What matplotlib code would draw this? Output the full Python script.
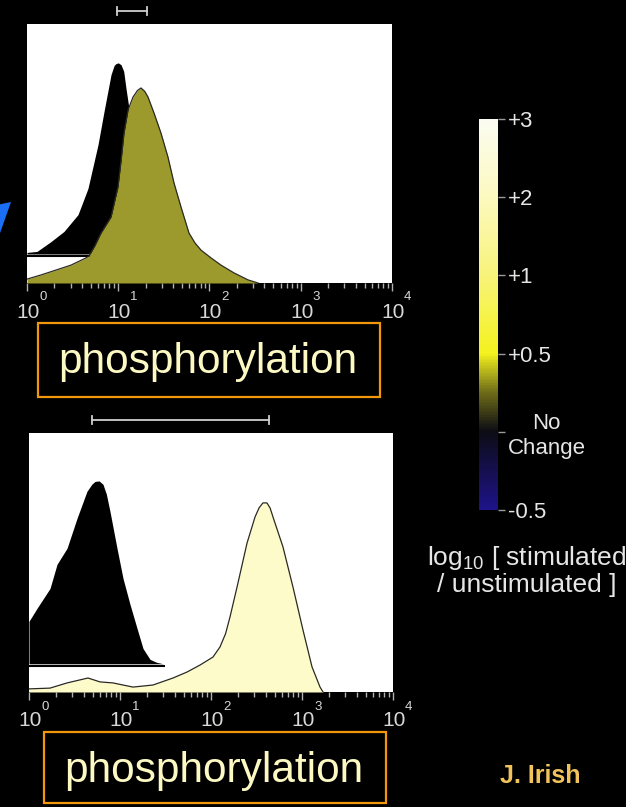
import numpy as np
import matplotlib
matplotlib.use("Agg")
import matplotlib.pyplot as plt
from matplotlib.colors import LinearSegmentedColormap, Normalize
from matplotlib.cm import ScalarMappable
from matplotlib.patches import Rectangle, Polygon
from matplotlib.transforms import blended_transform_factory, ScaledTranslation
from matplotlib.ticker import NullFormatter

plt.rcParams['font.family'] = ['Liberation Sans', 'DejaVu Sans']
plt.rcParams['mathtext.fontset'] = 'custom'
plt.rcParams['mathtext.rm'] = 'Liberation Sans'
plt.rcParams['mathtext.it'] = 'Liberation Sans:italic'
plt.rcParams['mathtext.bf'] = 'Liberation Sans:bold'

# ---------------- data ----------------
# top panel (log10 intensity, counts)
top_unstim_x = [0.0, 0.11, 0.263, 0.405, 0.559, 0.668, 0.778, 0.844, 0.921, 0.955, 0.975,
                1.0, 1.03, 1.06, 1.085, 1.118, 1.173, 1.249, 1.337, 1.447, 1.578, 1.688]
top_unstim_y = [0.6, 1.0, 4.8, 8.7, 15.2, 25.3, 42.2, 55.0, 69.3, 72.8, 73.5,
                73.8, 73.1, 70.5, 63.9, 56.1, 43.4, 28.0, 16.4, 6.7, 0.9, 0.0]
top_stim_x = [0.0, 0.153, 0.318, 0.482, 0.647, 0.679, 0.745, 0.811, 0.921, 0.997, 1.03, 1.063,
              1.107, 1.162, 1.21, 1.249, 1.29, 1.326, 1.392, 1.468, 1.545, 1.611, 1.688, 1.775,
              1.84, 1.907, 2.016, 2.126, 2.268, 2.422, 2.532]
top_stim_y = [1.5, 3.1, 5.0, 6.9, 9.7, 10.4, 14.5, 19.3, 25.5, 37.1, 47.0, 57.9,
              66.8, 71.8, 74.3, 75.3, 74.0, 71.8, 65.6, 57.9, 48.6, 38.6, 29.3, 19.3,
              15.5, 12.7, 9.7, 6.9, 3.9, 1.2, 0.0]
top_medians = [0.99, 1.315]

# bottom panel
bot_unstim_x = [0.0, 0.088, 0.231, 0.308, 0.418, 0.527, 0.637, 0.69, 0.725, 0.77, 0.813, 0.85,
                0.89, 0.967, 1.033, 1.11, 1.187, 1.253, 1.33, 1.4, 1.473, 1.495]
bot_unstim_y = [16.4, 21.4, 29.1, 38.4, 44.6, 56.1, 66.6, 69.3, 70.4, 70.6, 69.3, 65.5,
                58.8, 44.6, 33.0, 22.9, 13.7, 5.9, 1.7, 0.6, 0.0, 0.0]
bot_stim_x = [0.0, 0.231, 0.418, 0.648, 0.78, 0.923, 1.143, 1.363, 1.582, 1.736,
              1.879, 2.022, 2.099, 2.16, 2.209, 2.286, 2.396, 2.484, 2.53, 2.571, 2.615, 2.65,
              2.681, 2.791, 2.901, 3.011, 3.11, 3.198, 3.231]
bot_stim_y = [1.2, 1.5, 3.5, 5.4, 3.9, 3.5, 1.9, 2.7, 5.4, 7.7,
              10.4, 13.5, 17.4, 22.5, 29.0, 40.5, 57.5, 67.6, 71.2, 73.0, 73.0, 71.0,
              67.6, 56.0, 40.5, 23.9, 9.7, 1.9, 0.0]
bot_medians = [0.692, 2.637]

decade_exponents = [0, 1, 2, 3, 4]
decade_base = '10'

cbar_labels = ['-0.5', 'No\nChange', '+0.5', '+1', '+2', '+3']
cbar_nodes = [0.0, 0.2, 0.3, 0.4, 0.6, 0.8, 1.0]
cbar_colors = ['#1e138a', '#0c0c14', '#6e6c18', '#f4f21e', '#f8f37a', '#fcf9bf', '#fbfcf1']

W, H = 626, 807
fig = plt.figure(figsize=(W / 100, H / 100), dpi=100, facecolor='black')


def fx(p):
    return p / W


def fy(p):
    return 1 - p / H


def panel(rect, ux, uy, sx, sy, fill_base, line_base, stim_color, meds):
    ax = fig.add_axes(rect)
    ax.set_facecolor('white')
    ux10 = 10 ** np.array(ux)
    uy_ = np.array(uy)
    ax.fill_between(ux10, fill_base, fill_base + uy_, color='black', lw=0, zorder=1)
    ax.plot([1, ux10[-1]], [line_base, line_base], color='black', lw=1.5, zorder=1,
            solid_capstyle='butt')
    sx10 = 10 ** np.array(sx)
    ax.fill_between(sx10, 0, sy, color=stim_color, lw=0, zorder=2)
    ax.plot(sx10, sy, color='#2a2a22', lw=0.9, zorder=3)
    ax.set_xscale('log')
    ax.set_xlim(1, 1e4)
    ax.set_ylim(0, 100)
    ax.set_yticks([])
    for s in ax.spines.values():
        s.set_visible(False)
    ticks = [10.0 ** e for e in decade_exponents]
    ax.set_xticks(ticks)
    ax.xaxis.set_major_formatter(NullFormatter())
    ax.xaxis.set_minor_formatter(NullFormatter())
    ax.tick_params(axis='x', which='major', direction='out', length=6, width=1,
                   color='#b0b0b0')
    ax.tick_params(axis='x', which='minor', direction='out', length=3.5, width=1,
                   color='#b0b0b0')
    tr = blended_transform_factory(ax.transData, ax.transAxes)
    # decade labels: "10" plus small raised exponent
    for t, e in zip(ticks, decade_exponents):
        ax.text(t, 0, decade_base, transform=tr + ScaledTranslation(0.01, -0.345, fig.dpi_scale_trans),
                ha='center', va='baseline', fontsize=15, color='#d8d8d8', clip_on=False)
        ax.text(t, 0, str(e), transform=tr + ScaledTranslation(0.12, -0.175, fig.dpi_scale_trans),
                ha='left', va='baseline', fontsize=9.5, color='#d8d8d8', clip_on=False)
    lo, hi = 10 ** meds[0], 10 ** meds[1]
    ax.plot([lo, hi], [1.05, 1.05], transform=tr, color='#cfcfcf', lw=1.3, clip_on=False)
    ax.plot([lo, lo], [1.035, 1.065], transform=tr, color='#cfcfcf', lw=1.3, clip_on=False)
    ax.plot([hi, hi], [1.035, 1.065], transform=tr, color='#cfcfcf', lw=1.3, clip_on=False)
    return ax


ax1 = panel([fx(27), fy(283), 365 / W, 259 / H], top_unstim_x, top_unstim_y,
            top_stim_x, top_stim_y, 11.2, 10.3, '#9c9a2c', top_medians)
ax2 = panel([fx(29), fy(692), 364 / W, 259 / H], bot_unstim_x, bot_unstim_y,
            bot_stim_x, bot_stim_y, 10.9, 10.0, '#fdfbc9', bot_medians)

# orange boxes with labels
for (x0, y0, x1, y1, tx, ty) in [(38, 323, 380, 397, 208, 373), (44, 732, 386, 803, 214, 782)]:
    fig.add_artist(Rectangle((fx(x0), fy(y1)), (x1 - x0) / W, (y1 - y0) / H,
                             transform=fig.transFigure, fill=False, ec='#f2960c', lw=1.6))
    fig.text(fx(tx), fy(ty), 'phosphorylation', fontsize=30.5, color='#fcf9c2',
             ha='center', va='baseline')

# blue arrow head at left edge
fig.add_artist(Polygon([(fx(11), fy(202)), (fx(-8), fy(206)), (fx(-1), fy(236))],
                       closed=True, transform=fig.transFigure, color='#1a6ef5', lw=0))

# colour bar
cmap = LinearSegmentedColormap.from_list('stim', list(zip(cbar_nodes, cbar_colors)))
cax = fig.add_axes([fx(479), fy(510), 19 / W, 391 / H])
sm = ScalarMappable(norm=Normalize(0, len(cbar_labels) - 1), cmap=cmap)
cb = fig.colorbar(sm, cax=cax, ticks=list(range(len(cbar_labels))))
cb.set_ticklabels(cbar_labels)
cb.outline.set_visible(False)
cax.tick_params(length=5, width=1, color='#9a9a9a', labelcolor='#e6e6e6',
                labelsize=16, pad=2)
for t in cax.get_yticklabels():
    t.set_multialignment('center')

fig.text(fx(527), fy(565), r'log$_{\mathregular{10}}$ [ stimulated', fontsize=19,
         color='#e6e6e6', ha='center', va='baseline')
fig.text(fx(527), fy(592), '/ unstimulated ]', fontsize=19,
         color='#e6e6e6', ha='center', va='baseline')

fig.text(fx(540), fy(783), 'J. Irish', fontsize=18, fontweight='bold',
         color='#f2c35b', ha='center', va='baseline')

fig.savefig('out.png', dpi=100, facecolor='black')
